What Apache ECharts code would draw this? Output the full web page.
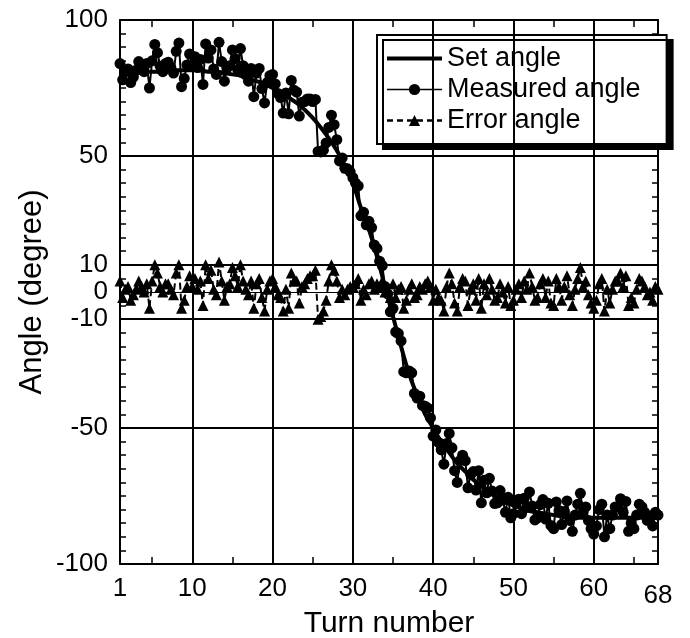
<!DOCTYPE html>
<html>
<head>
<meta charset="utf-8">
<script src="https://cdn.jsdelivr.net/npm/echarts@6/dist/echarts.min.js"></script>
<style>html,body{margin:0;padding:0;background:#fff}#chart{width:690px;height:638px}</style>
</head>
<body>
<div id="chart"></div>
<script>
// Set angle, one value per turn (turn 1..68)
const setAngle = [80,80,80.5,81,81,81,81.5,81.5,81.5,81.5,
  81.5,81,81,80.5,80,79.5,78.5,77.5,76.5,75,
  73.5,71.5,69.5,67,64,60.5,56.5,52,46.5,40,
  31,23,13,2,-9,-20,-30,-38,-45,-50,
  -55,-59,-63,-66,-69,-71.5,-73.5,-75.5,-77,-78.5,
  -79.5,-80.5,-81,-81.5,-82,-82.5,-83,-83,-83,-83,
  -83,-83,-83,-83,-83,-83,-83,-83];
// Measured angle, three samples per turn (turn 1, 1 1/3, 1 2/3, ..., 68)
const measuredAngle = [
  84,78,81, 82,77,79, 81.5,84.7,82.8, 81,84,75, 85,91,88,
  83,81,84, 84.5,82.5,80.5, 88.5,91.5,75.5, 78.5,83.5,87.5, 83.5,86.5,82.5,
  85.5,76.3,91.2, 86,89,82, 80,91.8,84.7, 77.5,82.3,83.2, 89,85.8,81.7,
  89.5,83.2,79.8, 77.5,82.2,71.8, 80.5,82.2,74.8, 69.5,77,79.5, 80,76.5,73,
  71.5,65.8,73.2, 65.5,77.8,74.2, 73.5,64.7,69.8, 70,71,71, 70,70.8,51.7,
  51.5,52.2,54.8, 60.5,65,61.5, 56,48.2,49.3, 45.5,45.3,44.2, 42,40,39,
  28,29.3,24.7, 26,23.7,17.3, 16,11.3,9.7, 2,-0.7,-7.3, -6,-14.7,-15.3,
  -18,-29.3,-29.7, -29,-29.7,-37.3, -39,-38.3,-41.7, -42,-42.7,-46.3, -53,-50.7,-55.3,
  -58,-63.3,-55.7, -52,-57.3,-65.7, -70,-62,-60, -62,-72,-67, -66,-72.8,-65.7,
  -77.5,-69.2,-73.8, -68.5,-73.2,-77.8, -77.5,-73,-76.5, -81,-75.5,-83, -81.5,-77.8,-76.2,
  -81.5,-75.8,-79.2, -73.5,-78.7,-83.8, -83,-78.2,-76.3, -83.5,-77.7,-85.8, -87,-77.2,-80.3,
  -85.5,-80.7,-76.8, -84,-88,-82, -78,-74,-81, -79,-84,-87, -89,-86,-80,
  -78,-90,-82, -87,-82,-79, -79,-76,-81, -77,-88,-85, -87,-82,-78,
  -79,-81,-84, -83,-86,-81, -82];
// Error angle, same sampling as measured
const errorAngle = [
  4,-2,1, 2,-3,-1, 1,4,2, 0,3,-6, 4,10,7,
  2,0,3, 3,1,-1, 7,10,-6, -3,2,6, 2,5,1,
  4,-5,10, 5,8,1, -1,11,4, -3,2,3, 9,6,2,
  10,4,1, -1,4,-6, 3,5,-2, -7,1,4, 5,2,-1,
  -2,-7,1, -6,7,4, 4,-4,2, 3,5,6, 6,8,-10,
  -9,-7,-3, 4,10,8, 4,-2,1, -1,1,2, 2,3,5,
  -3,1,-1, 3,4,1, 3,2,4, 0,1,-2, 3,-2,1,
  2,-6,-3, 1,3,-2, -1,2,1, 3,4,2, -3,1,-2,
  -3,-7,2, 7,3,-4, -7,2,5, 4,-5,1, 3,-3,5,
  -6,3,-1, 5,1,-3, -2,3,0, -4,2,-5, -3,1,3,
  -2,4,1, 7,2,-3, -2,3,5, -2,4,-4, -5,5,2,
  -3,2,6, -1,-5,1, 5,9,2, 4,-1,-4, -6,-3,3,
  5,-7,1, -4,1,4, 4,7,2, 6,-5,-2, -4,1,5,
  4,2,-1, 0,-3,2, 1];
const xLabels = [1,10,20,30,40,50,60,68];
const xTicks = [5,10,15,20,25,30,35,40,45,50,55,60,65];
const yLabels = [-100,-50,-10,0,10,50,100];
const yTicks = [];
for (let v = -95; v <= 95; v += 5) yTicks.push(v);
const gridX = [10,20,30,40,50,60];
const gridY = [50,10,-10,-50];
const zeroLine = [0];

const setData = setAngle.map((v, i) => [i + 1, v]);
const measData = measuredAngle.map((v, i) => [1 + i / 3, v]);
const errData = errorAngle.map((v, i) => [1 + i / 3, v]);

const FONT = '"Liberation Sans", Arial, Helvetica, sans-serif';
const chart = echarts.init(document.getElementById('chart'), null, {renderer: 'canvas'});
const axisLineStyle = {color: '#000', width: 2};
const tickStyle = {color: '#000', width: 1.5};
chart.setOption({
  animation: false,
  backgroundColor: '#fff',
  textStyle: {fontFamily: FONT},
  grid: {left: 120, right: 32, top: 20, bottom: 74, containLabel: false, outerBoundsMode: 'none'},
  legend: {
    orient: 'vertical', left: 377, top: 35,
    padding: [10, 26, 10, 8], itemGap: 4, itemWidth: 55, itemHeight: 14,
    backgroundColor: '#fff', borderColor: '#000', borderWidth: 2,
    shadowColor: '#000', shadowOffsetX: 6, shadowOffsetY: 5, shadowBlur: 0.01,
    textStyle: {fontFamily: FONT, fontSize: 27, color: '#000'},
    data: [
      {name: 'Set angle', itemStyle: {opacity: 0}, lineStyle: {width: 4, color: '#000'}},
      {name: 'Measured angle', lineStyle: {width: 1.5, color: '#000'}},
      {name: 'Error angle', lineStyle: {width: 2.5, color: '#000', type: [6, 4]}}
    ]
  },
  xAxis: [{
    type: 'value', min: 1, max: 68, position: 'bottom',
    name: 'Turn number', nameLocation: 'middle', nameGap: 45, nameMoveOverlap: false,
    nameTextStyle: {fontFamily: FONT, fontSize: 30, color: '#000'},
    axisLine: {show: true, onZero: false, lineStyle: axisLineStyle},
    axisTick: {show: true, inside: true, length: 7, customValues: xTicks, lineStyle: tickStyle},
    axisLabel: {customValues: xLabels, fontFamily: FONT, fontSize: 26, color: '#000', margin: 12,
      formatter: v => v === 68 ? '{low|68}' : String(v),
      rich: {low: {fontFamily: FONT, fontSize: 26, color: '#000', padding: [7, 0, 0, 0]}}},
    splitLine: {show: false}
  }, {
    type: 'value', min: 1, max: 68, position: 'top',
    axisLine: {show: true, onZero: false, lineStyle: axisLineStyle},
    axisTick: {show: true, inside: true, length: 7, customValues: xTicks, lineStyle: tickStyle},
    axisLabel: {show: false}, splitLine: {show: false}
  }],
  yAxis: [{
    type: 'value', min: -100, max: 100, position: 'left',
    name: 'Angle (degree)', nameLocation: 'middle', nameGap: 72, nameRotate: 90, nameMoveOverlap: false,
    nameTextStyle: {fontFamily: FONT, fontSize: 31, color: '#000'},
    axisLine: {show: true, onZero: false, lineStyle: axisLineStyle},
    axisTick: {show: true, inside: true, length: 6, customValues: yTicks, lineStyle: tickStyle},
    axisLabel: {customValues: yLabels, fontFamily: FONT, fontSize: 26, color: '#000', margin: 12},
    splitLine: {show: false}
  }, {
    type: 'value', min: -100, max: 100, position: 'right',
    axisLine: {show: true, onZero: false, lineStyle: axisLineStyle},
    axisTick: {show: true, inside: true, length: 6, customValues: yTicks, lineStyle: tickStyle},
    axisLabel: {show: false}, splitLine: {show: false}
  }],
  series: [{
    name: 'grid', type: 'line', data: [], z: 1, silent: true,
    markLine: {
      silent: true, symbol: ['none', 'none'], label: {show: false},
      lineStyle: {color: '#000', width: 2, type: 'solid'},
      emphasis: {disabled: true},
      data: gridX.map(v => ({xAxis: v})).concat(gridY.map(v => ({yAxis: v})))
    }
  }, {
    name: 'zero', type: 'line', data: [], z: 1, silent: true,
    markLine: {
      silent: true, symbol: ['none', 'none'], label: {show: false},
      lineStyle: {color: '#000', width: 1, type: 'solid'},
      emphasis: {disabled: true},
      data: zeroLine.map(v => ({yAxis: v}))
    }
  }, {
    name: 'Error angle', type: 'line', data: errData, z: 3,
    symbol: 'triangle', symbolSize: 11, showAllSymbol: true,
    itemStyle: {color: '#000'},
    lineStyle: {color: '#000', width: 2, type: [7, 4]}
  }, {
    name: 'Measured angle', type: 'line', data: measData, z: 4,
    symbol: 'circle', symbolSize: 11, showAllSymbol: true,
    itemStyle: {color: '#000'},
    lineStyle: {color: '#000', width: 2}
  }, {
    name: 'Set angle', type: 'line', data: setData, z: 5,
    symbol: 'none', smooth: true,
    itemStyle: {color: '#000'},
    lineStyle: {color: '#000', width: 4}
  }]
});
</script>
</body>
</html>
